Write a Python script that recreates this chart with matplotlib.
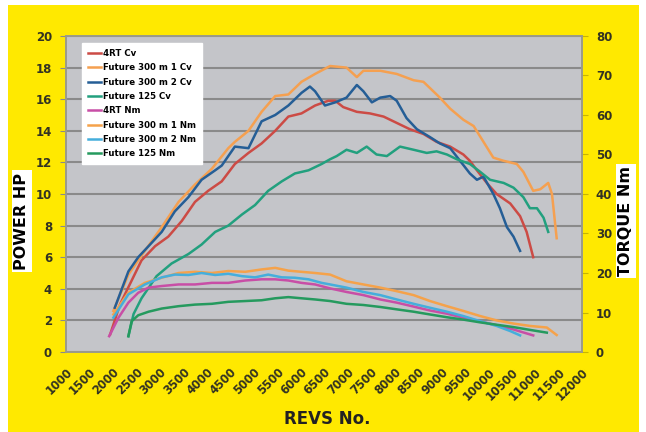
import matplotlib
matplotlib.use("Agg")
import matplotlib.pyplot as plt
from matplotlib.patches import Rectangle

# ---- data ----
# power curves, HP (left axis)
rpm_4rt_cv = [1940, 2150, 2330, 2610, 2900, 3180, 3470, 3750, 4030, 4320, 4600, 4890, 5170,
              5460, 5740, 6020, 6310, 6590, 6740, 6910, 7200, 7480, 7770, 8050, 8330, 8620,
              8900, 9190, 9470, 9610, 9760, 9970, 10180, 10470, 10680, 10820, 10960]
hp_4rt_cv = [1.1, 3.0, 4.1, 5.8, 6.7, 7.3, 8.3, 9.5, 10.2, 10.8, 11.9, 12.6, 13.2,
             14.0, 14.9, 15.1, 15.6, 15.9, 15.9, 15.5, 15.2, 15.1, 14.9, 14.5, 14.1, 13.8,
             13.3, 13.0, 12.5, 12.1, 11.5, 10.7, 10.0, 9.4, 8.6, 7.6, 6.0]

rpm_f1_cv = [2010, 2330, 2680, 3040, 3400, 3750, 4110, 4460, 4600, 4890, 5170, 5460, 5740,
             6020, 6310, 6630, 6980, 7200, 7340, 7700, 8050, 8410, 8620, 8760, 8970, 9190,
             9470, 9690, 9900, 10110, 10330, 10610, 10750, 10960, 11110, 11280, 11360, 11460]
hp_f1_cv = [2.6, 4.9, 6.4, 7.9, 9.5, 10.6, 11.6, 12.9, 13.3, 14.0, 15.2, 16.2, 16.3,
            17.1, 17.6, 18.1, 18.0, 17.4, 17.8, 17.8, 17.6, 17.2, 17.1, 16.7, 16.1, 15.4,
            14.7, 14.3, 13.3, 12.3, 12.1, 11.9, 11.4, 10.2, 10.3, 10.7, 10.0, 7.2]

rpm_f2_cv = [2040, 2330, 2540, 2760, 3040, 3320, 3610, 3890, 4180, 4320, 4600, 4890, 5170,
             5460, 5740, 6020, 6200, 6310, 6520, 6740, 6980, 7200, 7340, 7520, 7700, 7910,
             8050, 8260, 8480, 8760, 8970, 9190, 9400, 9610, 9760, 9900, 10110, 10250,
             10400, 10540, 10680]
hp_f2_cv = [2.8, 5.1, 6.0, 6.7, 7.6, 8.9, 9.8, 10.9, 11.5, 11.8, 13.0, 12.9, 14.6,
            15.0, 15.6, 16.4, 16.8, 16.5, 15.6, 15.8, 16.1, 16.9, 16.5, 15.8, 16.1, 16.2,
            15.9, 14.8, 14.1, 13.6, 13.2, 12.9, 12.1, 11.3, 10.9, 11.1, 10.0, 9.1,
            7.9, 7.3, 6.4]

rpm_f125_cv = [2330, 2440, 2610, 2930, 3250, 3610, 3890, 4180, 4460, 4750, 5030, 5310, 5600,
               5880, 6170, 6450, 6630, 6770, 6980, 7200, 7410, 7620, 7840, 8120, 8410, 8690,
               8900, 9120, 9330, 9610, 9830, 10040, 10330, 10540, 10750, 10890, 11040,
               11180, 11280]
hp_f125_cv = [1.0, 2.4, 3.4, 4.8, 5.6, 6.2, 6.8, 7.6, 8.0, 8.7, 9.3, 10.2, 10.8,
              11.3, 11.5, 11.9, 12.2, 12.4, 12.8, 12.6, 13.0, 12.5, 12.4, 13.0, 12.8, 12.6,
              12.7, 12.5, 12.2, 11.9, 11.4, 10.9, 10.7, 10.4, 9.8, 9.1, 9.1,
              8.5, 7.6]

# torque curves, Nm (right axis)
rpm_4rt_nm = [1920, 2120, 2330, 2540, 2760, 3040, 3400, 3750, 4110, 4460, 4820, 5170, 5460,
              5740, 6020, 6310, 6630, 6980, 7340, 7700, 8050, 8410, 8760, 9120, 9470, 9830,
              10180, 10540, 10960]
nm_4rt_nm = [4.0, 8.7, 12.5, 15.0, 16.3, 16.7, 17.1, 17.1, 17.5, 17.5, 18.1, 18.4, 18.4,
             18.1, 17.5, 17.1, 16.1, 15.2, 14.4, 13.3, 12.5, 11.5, 10.5, 9.7, 8.7, 7.7,
             6.8, 5.7, 4.2]

rpm_f1_nm = [2010, 2330, 2680, 3040, 3400, 3750, 4110, 4460, 4820, 5170, 5460, 5740, 6020,
             6310, 6630, 6980, 7340, 7700, 8050, 8410, 8760, 9120, 9470, 9830, 10180,
             10540, 10890, 11250, 11460]
nm_f1_nm = [9.5, 15.0, 17.5, 18.8, 20.0, 20.3, 20.0, 20.5, 20.3, 20.9, 21.3, 20.6, 20.3,
            20.0, 19.6, 17.9, 17.1, 16.3, 15.4, 14.4, 12.9, 11.6, 10.4, 9.1, 8.0,
            7.2, 6.6, 6.2, 4.3]

rpm_f2_nm = [2010, 2330, 2680, 3040, 3320, 3610, 3890, 4180, 4460, 4750, 5030, 5310, 5600,
             5880, 6170, 6450, 6630, 6980, 7340, 7700, 8050, 8410, 8760, 9120, 9470, 9830,
             10180, 10470, 10680]
nm_f2_nm = [8.7, 14.6, 17.1, 18.9, 19.6, 19.5, 20.0, 19.5, 19.8, 19.2, 18.9, 19.6, 18.9,
            18.8, 18.4, 17.5, 17.1, 16.3, 15.2, 14.4, 13.3, 12.2, 11.2, 10.2, 9.1, 7.8,
            6.6, 5.3, 4.2]

rpm_f125_nm = [2330, 2400, 2540, 2760, 3040, 3400, 3750, 4110, 4460, 4820, 5170, 5460, 5740,
               6020, 6310, 6630, 6980, 7340, 7700, 8050, 8410, 8760, 9120, 9470, 9830,
               10180, 10540, 10890, 11250]
nm_f125_nm = [4.0, 7.8, 9.3, 10.2, 11.0, 11.6, 12.0, 12.2, 12.7, 12.9, 13.1, 13.6, 13.9,
              13.6, 13.3, 12.9, 12.2, 11.9, 11.4, 10.8, 10.2, 9.5, 8.8, 8.2, 7.5,
              6.9, 6.3, 5.6, 4.9]

x_ticks = list(range(1000, 12001, 500))

# ---- figure ----
fig = plt.figure(figsize=(6.46, 4.32), dpi=100, facecolor='white')
fig.patches.append(Rectangle((8 / 646, 0), 631 / 646, 427 / 432, transform=fig.transFigure,
                             facecolor='#ffe900', edgecolor='none', zorder=-10))

ax = fig.add_axes([66 / 646, 80 / 432, 516 / 646, 316 / 432])
ax.set_facecolor('#c4c5c9')
ax2 = ax.twinx()

lw = 1.8
ax.plot(rpm_4rt_cv, hp_4rt_cv, color='#cc4b45', lw=lw, label='4RT Cv')
ax.plot(rpm_f1_cv, hp_f1_cv, color='#f5a050', lw=lw, label='Future 300 m 1 Cv')
ax.plot(rpm_f2_cv, hp_f2_cv, color='#255e96', lw=lw, label='Future 300 m 2 Cv')
ax.plot(rpm_f125_cv, hp_f125_cv, color='#22a07e', lw=lw, label='Future 125 Cv')
ax2.plot(rpm_4rt_nm, nm_4rt_nm, color='#c84ea6', lw=lw, label='4RT Nm')
ax2.plot(rpm_f1_nm, nm_f1_nm, color='#f5a24a', lw=lw, label='Future 300 m 1 Nm')
ax2.plot(rpm_f2_nm, nm_f2_nm, color='#45aedc', lw=lw, label='Future 300 m 2 Nm')
ax2.plot(rpm_f125_nm, nm_f125_nm, color='#259a5e', lw=lw, label='Future 125 Nm')

ax.set_xlim(1000, 12000)
ax.set_ylim(0, 20)
ax2.set_ylim(0, 80)
ax.set_yticks(range(0, 21, 2))
ax2.set_yticks(range(0, 81, 10))
ax.set_xticks(x_ticks)
ax.set_xticklabels([str(t) for t in x_ticks], rotation=45, ha='right',
                   rotation_mode='anchor', fontsize=8.3, fontweight='bold', color='#333322')
ax.tick_params(axis='x', length=0, pad=10)
ax.tick_params(axis='y', length=4, color='#8a8a8a', pad=6, labelsize=8.5, labelcolor='#333322')
ax2.tick_params(axis='y', length=4, color='#c8b400', pad=6, labelsize=8.5, labelcolor='#333322')
for lab in ax.get_yticklabels() + ax2.get_yticklabels():
    lab.set_fontweight('bold')

ax.grid(axis='y', color='#8a8a8a', lw=1.5)
ax.set_axisbelow(True)
for a in (ax, ax2):
    for s in a.spines.values():
        s.set_color('#9a9a8a')
        s.set_linewidth(1.2)

box = dict(facecolor='white', edgecolor='none', pad=1.5)
fig.text(22 / 646, 1 - 221 / 432, 'POWER HP', rotation=90, ha='center', va='center',
         fontsize=11.5, fontweight='bold', bbox=box)
fig.text(626 / 646, 1 - 221 / 432, 'TORQUE Nm', rotation=90, ha='center', va='center',
         fontsize=11.5, fontweight='bold', bbox=box)
fig.text(327 / 646, 1 - 419 / 432, 'REVS No.', ha='center', va='center',
         fontsize=12, fontweight='bold', color='#222222')

h1, l1 = ax.get_legend_handles_labels()
h2, l2 = ax2.get_legend_handles_labels()
leg = ax2.legend(h1 + h2, l1 + l2, loc='upper left', bbox_to_anchor=(0.031, 0.978),
                 borderaxespad=0, fancybox=False, framealpha=1, edgecolor='white',
                 prop={'size': 6.2, 'weight': 'bold'}, handlelength=1.5,
                 handletextpad=0.2, labelspacing=0.62, borderpad=0.7)
leg.set_zorder(10)

fig.savefig('out.png', dpi=100, facecolor='white')
